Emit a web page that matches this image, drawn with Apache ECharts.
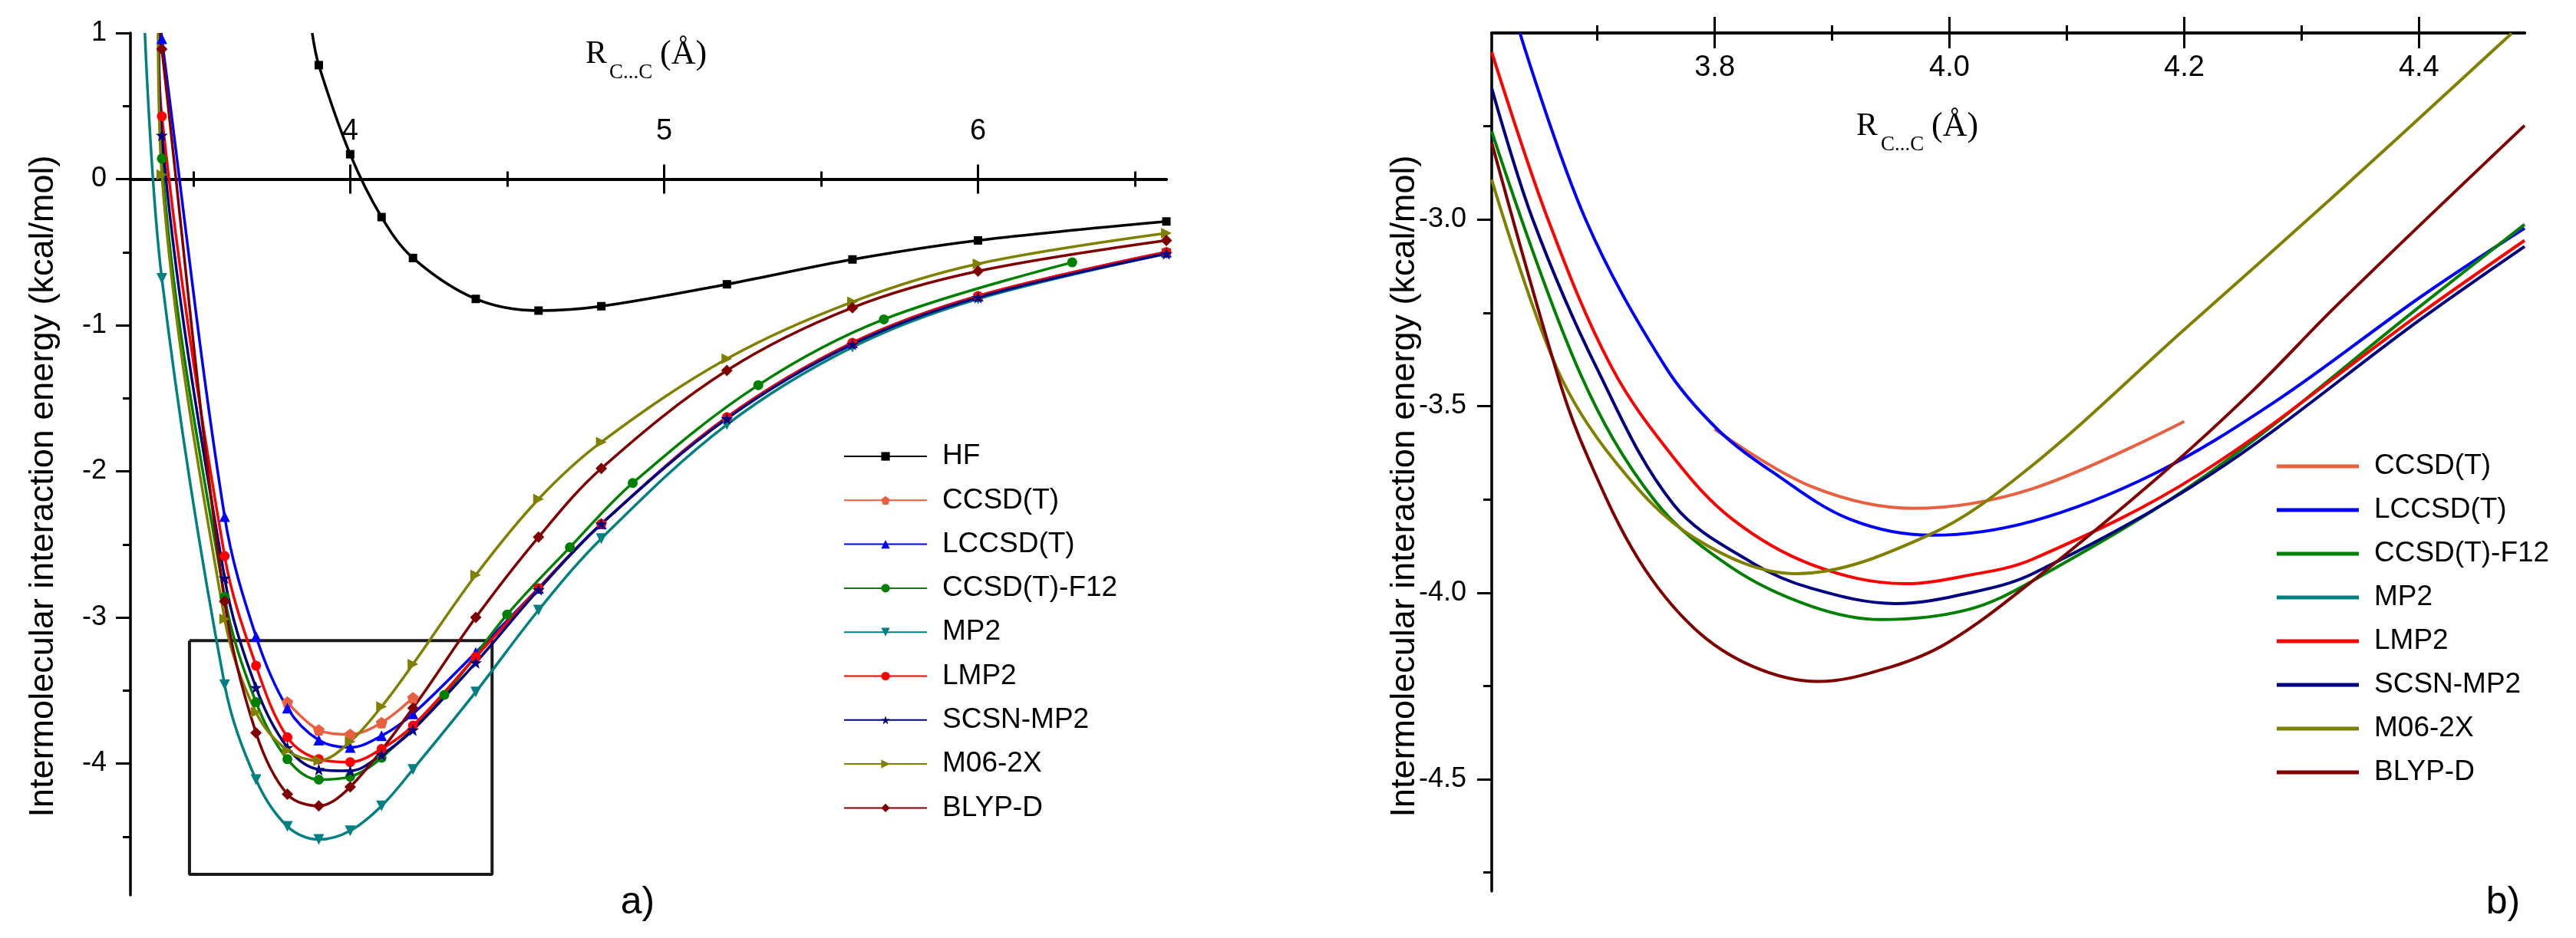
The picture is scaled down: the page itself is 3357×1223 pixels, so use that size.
<!DOCTYPE html>
<html><head><meta charset="utf-8">
<script src="https://cdn.jsdelivr.net/npm/echarts@6/dist/echarts.min.js"></script>
<style>html,body{margin:0;padding:0;background:#fff}#c{width:3357px;height:1223px}</style>
</head><body><div id="c"></div>
<script>
// ---------------- data ----------------
const methods = ['HF','CCSD(T)','LCCSD(T)','CCSD(T)-F12','MP2','LMP2','SCSN-MP2','M06-2X','BLYP-D'];
const colors  = ['#000000','#E8603F','#0000FF','#008000','#008080','#FF0000','#000080','#808000','#800000'];

// panel a) computed points [R C...C (Å), E (kcal/mol)]
const hfA     = [[3.9,0.78],[4.0,0.17],[4.1,-0.26],[4.2,-0.54],[4.4,-0.82],[4.6,-0.90],[4.8,-0.87],[5.2,-0.72],[5.6,-0.55],[6.0,-0.42],[6.6,-0.29]];
const ccsdtA  = [[3.8,-3.58],[3.9,-3.77],[4.0,-3.80],[4.1,-3.72],[4.2,-3.55]];
const lccsdtA = [[3.4,0.96],[3.6,-2.31],[3.7,-3.13],[3.8,-3.62],[3.9,-3.84],[4.0,-3.89],[4.1,-3.81],[4.2,-3.66],[4.4,-3.24],[4.6,-2.80],[4.8,-2.36],[5.2,-1.63],[5.6,-1.12],[6.0,-0.80],[6.6,-0.50]];
const f12A    = [[3.4,0.14],[3.6,-2.86],[3.7,-3.58],[3.8,-3.97],[3.9,-4.11],[4.0,-4.09],[4.1,-3.96],[4.3,-3.53],[4.5,-2.98],[4.7,-2.52],[4.9,-2.08],[5.3,-1.41],[5.7,-0.96],[6.3,-0.57]];
const mp2A    = [[3.4,-0.68],[3.6,-3.46],[3.7,-4.11],[3.8,-4.43],[3.9,-4.52],[4.0,-4.46],[4.1,-4.29],[4.2,-4.04],[4.4,-3.51],[4.6,-2.95],[4.8,-2.46],[5.2,-1.68],[5.6,-1.15],[6.0,-0.82],[6.6,-0.51]];
const lmp2A   = [[3.4,0.43],[3.6,-2.58],[3.7,-3.33],[3.8,-3.82],[3.9,-3.97],[4.0,-3.99],[4.1,-3.90],[4.2,-3.74],[4.4,-3.27],[4.6,-2.80],[4.8,-2.36],[5.2,-1.63],[5.6,-1.12],[6.0,-0.80],[6.6,-0.50]];
const scsnA   = [[3.4,0.30],[3.6,-2.73],[3.7,-3.48],[3.8,-3.89],[3.9,-4.04],[4.0,-4.05],[4.1,-3.94],[4.2,-3.77],[4.4,-3.31],[4.6,-2.81],[4.8,-2.36],[5.2,-1.64],[5.6,-1.13],[6.0,-0.81],[6.6,-0.51]];
const m06A    = [[3.4,0.03],[3.6,-3.01],[3.7,-3.65],[3.8,-3.91],[3.9,-3.98],[4.0,-3.85],[4.1,-3.61],[4.2,-3.32],[4.4,-2.71],[4.6,-2.19],[4.8,-1.80],[5.2,-1.23],[5.6,-0.84],[6.0,-0.58],[6.6,-0.37]];
const blypA   = [[3.4,0.89],[3.6,-2.89],[3.7,-3.79],[3.8,-4.21],[3.9,-4.29],[4.0,-4.16],[4.2,-3.62],[4.4,-3.00],[4.6,-2.45],[4.8,-1.98],[5.2,-1.31],[5.6,-0.88],[6.0,-0.63],[6.6,-0.42]];
// where each fitted curve leaves the top of panel a) (no marker there)
const topExitA = [[3.879,1],null,[3.398,1],[3.39,1],[3.346,1],[3.39,1],[3.39,1],[3.388,1],[3.395,1]];
// zoom frame drawn in panel a)
const zoomBoxA = [[3.488,-3.158],[4.452,-3.158],[4.452,-4.758],[3.488,-4.758],[3.488,-3.158]];

// panel b) fitted curves
const ccsdtB  = [[3.800,-3.562],[3.882,-3.715],[3.969,-3.774],[4.071,-3.721],[4.200,-3.541]];
const lccsdtB = [[3.634,-2.5],[3.690,-3.0],[3.758,-3.395],[3.802,-3.561],[3.849,-3.676],[3.915,-3.803],[3.985,-3.846],[4.071,-3.808],[4.174,-3.682],[4.277,-3.489],[4.402,-3.206],[4.49,-3.023]];
const f12B    = [[3.61,-2.764],[3.685,-3.41],[3.749,-3.754],[3.815,-3.934],[3.882,-4.036],[3.942,-4.072],[4.015,-4.046],[4.071,-3.968],[4.220,-3.682],[4.402,-3.230],[4.49,-3.013]];
const mp2B    = [];
const lmp2B   = [[3.61,-2.551],[3.658,-3.0],[3.712,-3.395],[3.765,-3.638],[3.815,-3.803],[3.882,-3.924],[3.962,-3.976],[4.015,-3.954],[4.071,-3.910],[4.213,-3.682],[4.402,-3.250],[4.49,-3.056]];
const scsnB   = [[3.61,-2.648],[3.645,-3.0],[3.699,-3.395],[3.765,-3.764],[3.832,-3.920],[3.882,-3.988],[3.954,-4.029],[4.015,-4.002],[4.071,-3.949],[4.223,-3.682],[4.402,-3.266],[4.49,-3.072]];
const m06B    = [[3.61,-2.893],[3.665,-3.395],[3.715,-3.648],[3.782,-3.852],[3.869,-3.949],[3.982,-3.846],[4.067,-3.668],[4.200,-3.295],[4.330,-2.930],[4.479,-2.501]];
const blypB   = [[3.61,-2.794],[3.668,-3.436],[3.692,-3.638],[3.735,-3.910],[3.782,-4.094],[3.832,-4.197],[3.888,-4.238],[3.949,-4.20],[3.999,-4.133],[4.071,-3.968],[4.181,-3.682],[4.259,-3.457],[4.330,-3.230],[4.49,-2.748]];

// axis ticks / labels
const xMajorA = [4,5,6], xMinorA = [3.5,4.5,5.5,6.5];
const yMajorA = [1,0,-1,-2,-3,-4], yMinorA = [0.5,-0.5,-1.5,-2.5,-3.5,-4.5];
const xMajorB = [3.8,4.0,4.2,4.4], xMinorB = [3.7,3.9,4.1,4.3];
const yMajorB = [-3.0,-3.5,-4.0,-4.5], yMinorB = [-2.75,-3.25,-3.75,-4.25,-4.75];

// ---------------- styling ----------------
const FONT = '"Liberation Sans", Arial, sans-serif';
const SERIF = '"Liberation Serif", "Times New Roman", serif';
const star = 'path://M50,0 L61.8,35.1 L98.1,35.1 L68.8,56.7 L79.4,91.9 L50,70.2 L20.6,91.9 L31.2,56.7 L1.9,35.1 L38.2,35.1 Z';
const pent = 'path://M50,0 L97.6,34.5 L79.4,90.5 L20.6,90.5 L2.4,34.5 Z';
const triDown = 'path://M0,0 L100,0 L50,90 Z';
const triRight = 'path://M0,0 L90,50 L0,100 Z';
const symbols = ['rect', pent, 'triangle', 'circle', triDown, 'circle', star, triRight, 'diamond'];
const symSizes = [11, 15, 14, 13, 14, 13, 16, 14, 15];
const dataA = [hfA, ccsdtA, lccsdtA, f12A, mp2A, lmp2A, scsnA, m06A, blypA];
const dataB = [null, ccsdtB, lccsdtB, f12B, mp2B, lmp2B, scsnB, m06B, blypB];
const SMOOTH = 0.35;

const gridA = {left:170, top:43, width:1350, height:1124};
const gridB = {left:1944, top:43, width:1346, height:1119};
const yRangeA = [-4.9, 1];

const BLACK = '#000';
function axisBase(grid, min, max) {
  return { type:'value', gridIndex:grid, min:min, max:max, splitLine:{show:false},
    axisLine:{show:false}, axisTick:{show:false}, axisLabel:{show:false} };
}
function withTicks(ax, values, len, inside) {
  ax.axisTick = { show:true, customValues:values, length:len, inside:!!inside, lineStyle:{color:BLACK, width:3} };
  return ax;
}
const lineOn = (onZeroIdx) => ({ show:true, onZero: onZeroIdx != null, onZeroAxisIndex: onZeroIdx == null ? undefined : onZeroIdx, lineStyle:{color:BLACK, width:3.5} });

// x axes (panel a: line and ticks sit on E = 0; ticks cross the line)
const xAxes = [];
let a;
a = withTicks(axisBase(0, 3.3, 6.6), xMajorA, 19, true); a.position='bottom'; a.axisLine=lineOn(0); xAxes.push(a);
a = withTicks(axisBase(0, 3.3, 6.6), xMajorA, 19, false); a.position='bottom'; a.axisLine=lineOn(0); xAxes.push(a);
a = withTicks(axisBase(0, 3.3, 6.6), xMinorA, 10, true); a.position='bottom'; a.axisLine=lineOn(0); xAxes.push(a);
a = withTicks(axisBase(0, 3.3, 6.6), xMinorA, 10, false); a.position='bottom'; a.axisLine=lineOn(0); xAxes.push(a);
// panel b: top
a = withTicks(axisBase(1, 3.61, 4.49), xMajorB, 21, false); a.position='top'; a.axisLine=lineOn(null); xAxes.push(a);
a = withTicks(axisBase(1, 3.61, 4.49), xMajorB, 20, true); a.position='top'; a.axisLine=lineOn(null);
a.axisLabel = { show:true, inside:true, customValues:xMajorB, margin:27, fontSize:38, color:BLACK, fontFamily:FONT, formatter:(v)=>Number(v).toFixed(1) };
xAxes.push(a);
a = withTicks(axisBase(1, 3.61, 4.49), xMinorB, 10, false); a.position='top'; a.axisLine=lineOn(null); xAxes.push(a);
a = withTicks(axisBase(1, 3.61, 4.49), xMinorB, 10, true); a.position='top'; a.axisLine=lineOn(null); xAxes.push(a);
// panel a: tick labels above the E = 0 line (top axis shifted down onto the zero line)
a = axisBase(0, 3.3, 6.6); a.position='top';
a.offset = -(yRangeA[1] - 0) / (yRangeA[1] - yRangeA[0]) * gridA.height;
a.axisLabel = { show:true, customValues:xMajorA, margin:43, fontSize:38, color:BLACK, fontFamily:FONT };
xAxes.push(a);

// y axes
const yAxes = [];
a = withTicks(axisBase(0, yRangeA[0], yRangeA[1]), yMajorA, 19, false); a.position='left'; a.axisLine=lineOn(null);
a.axisLabel = { show:true, customValues:yMajorA, margin:31, fontSize:36, color:BLACK, fontFamily:FONT };
yAxes.push(a);
a = withTicks(axisBase(0, yRangeA[0], yRangeA[1]), yMinorA, 10, false); a.position='left'; yAxes.push(a);
a = withTicks(axisBase(1, -4.8, -2.5), yMajorB, 19, false); a.position='left'; a.axisLine=lineOn(null);
a.axisLabel = { show:true, customValues:yMajorB, margin:33, fontSize:36, color:BLACK, fontFamily:FONT, formatter:(v)=>Number(v).toFixed(1) };
yAxes.push(a);
a = withTicks(axisBase(1, -4.8, -2.5), yMinorB, 11, false); a.position='left'; yAxes.push(a);

// series
const series = [];
series.push({ type:'line', xAxisIndex:0, yAxisIndex:0, data:zoomBoxA, symbol:'none', silent:true,
  lineStyle:{color:'#1a1a1a', width:4}, z:1 });
methods.forEach((m, i) => {
  const pts = dataA[i].map(p => ({ value:p }));
  if (topExitA[i]) pts.unshift({ value:topExitA[i], symbol:'none' });
  series.push({ name:m, type:'line', xAxisIndex:0, yAxisIndex:0, data:pts, smooth:SMOOTH,
    symbol:symbols[i], symbolSize:symSizes[i], showAllSymbol:true,
    lineStyle:{color:colors[i], width:3.5}, itemStyle:{color:colors[i]}, z:2 });
});
methods.forEach((m, i) => {
  if (i === 0) return;
  series.push({ name:m + ' (b)', type:'line', xAxisIndex:4, yAxisIndex:2, data:dataB[i], smooth:SMOOTH,
    symbol:'none', lineStyle:{color:colors[i], width:4}, itemStyle:{color:colors[i]}, z:2 });
});

const legendText = { fontSize:37, fontFamily:FONT, color:BLACK, lineHeight:40, rich:{ g:{ width:15 } } };

const option = {
  animation:false,
  backgroundColor:'#fff',
  grid:[ gridA, gridB ],
  xAxis:xAxes, yAxis:yAxes, series:series,
  legend:[
    { data:methods, orient:'vertical', left:1099, top:575, padding:0, itemWidth:108, itemHeight:14, itemGap:17.3,
      selectedMode:false, textStyle:legendText, formatter:(n)=>'{g|\u00a0}' + n },
    { data:methods.slice(1).map(m => m + ' (b)'), orient:'vertical', left:2967, top:588, padding:0, icon:'rect',
      itemWidth:107, itemHeight:5, itemGap:17, selectedMode:false, textStyle:legendText,
      formatter:(n)=>'{g|\u00a0}' + n.replace(' (b)','') }
  ],
  graphic:[
    { type:'text', x:57, y:634, rotation:Math.PI/2, style:{ text:'Intermolecular interaction energy (kcal/mol)', font:'45px ' + FONT, fill:BLACK, align:'center', verticalAlign:'middle' } },
    { type:'text', x:1831, y:634, rotation:Math.PI/2, style:{ text:'Intermolecular interaction energy (kcal/mol)', font:'45px ' + FONT, fill:BLACK, align:'center', verticalAlign:'middle' } },
    { type:'text', x:763, y:71, style:{ text:'R', font:'42px ' + SERIF, fill:BLACK, align:'left', verticalAlign:'middle' } },
    { type:'text', x:794, y:95, style:{ text:'C...C', font:'27px ' + SERIF, fill:BLACK, align:'left', verticalAlign:'middle' } },
    { type:'text', x:860, y:71, style:{ text:'(Å)', font:'44px ' + SERIF, fill:BLACK, align:'left', verticalAlign:'middle' } },
    { type:'text', x:2419, y:165, style:{ text:'R', font:'42px ' + SERIF, fill:BLACK, align:'left', verticalAlign:'middle' } },
    { type:'text', x:2451, y:189, style:{ text:'C...C', font:'27px ' + SERIF, fill:BLACK, align:'left', verticalAlign:'middle' } },
    { type:'text', x:2517, y:165, style:{ text:'(Å)', font:'44px ' + SERIF, fill:BLACK, align:'left', verticalAlign:'middle' } },
    { type:'text', x:831, y:1177, style:{ text:'a)', font:'50px ' + FONT, fill:BLACK, align:'center', verticalAlign:'middle' } },
    { type:'text', x:3262, y:1177, style:{ text:'b)', font:'50px ' + FONT, fill:BLACK, align:'center', verticalAlign:'middle' } }
  ]
};
const chart = echarts.init(document.getElementById('c'), null, {renderer:'canvas'});
chart.setOption(option);
</script>
</body></html>
